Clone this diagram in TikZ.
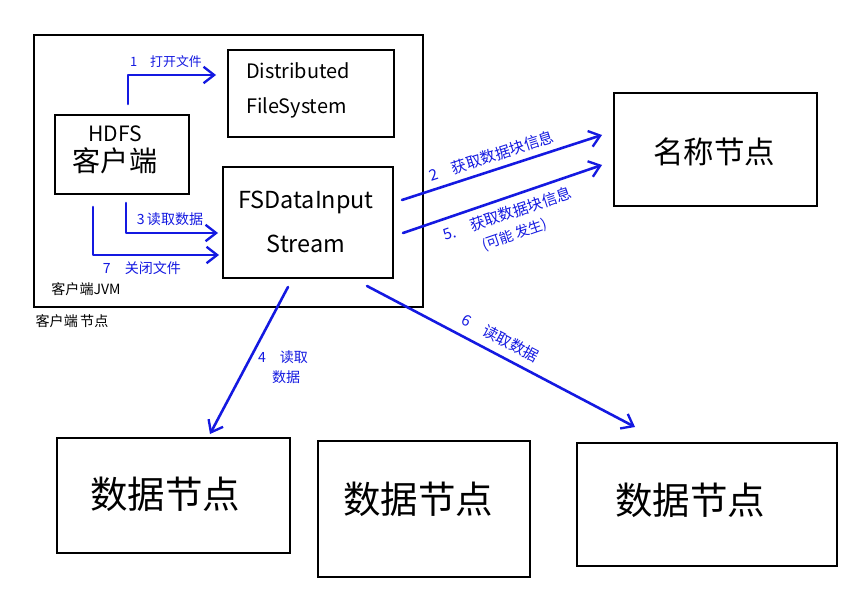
\documentclass[tikz,border=0pt]{standalone}
\usepackage{fontspec}
\setmainfont{Noto Sans CJK SC}
\usetikzlibrary{arrows.meta}
\definecolor{penblue}{RGB}{20,25,225}
\tikzset{
  box/.style={draw=black, line width=2.2pt, rectangle, inner sep=0pt},
  flow/.style={draw=penblue, line width=2.2pt, line cap=round, line join=round,
    -{Straight Barb[length=9pt,width=14pt,line width=2pt]}},
  lbl/.style={text=penblue, font=\fontsize{11}{13}\selectfont, inner sep=1pt},
  bigtxt/.style={font=\fontsize{19}{24}\selectfont},
}
\begin{document}
\begin{tikzpicture}[x=0.03cm,y=-0.03cm]
\useasboundingbox[fill=white] (0,0) rectangle (843,594);
% boxes
\node[box, minimum width=11.67cm, minimum height=8.16cm] (jvm) at (228.5,171) {};
\node[box, minimum width=4.98cm, minimum height=2.61cm] (dfs) at (311,93.5) {};
\node[box, minimum width=4.02cm, minimum height=2.37cm] (client) at (122,154.5) {};
\node[box, minimum width=5.1cm, minimum height=3.33cm] (fsin) at (308,222.5) {};
\node[box, minimum width=6.09cm, minimum height=3.39cm] (nn) at (715.5,149.5) {};
\node[box, minimum width=6.99cm, minimum height=3.45cm] (dn1) at (173.5,495.5) {};
\node[box, minimum width=6.36cm, minimum height=4.08cm] (dn2) at (424,509) {};
\node[box, minimum width=7.8cm, minimum height=3.69cm] (dn3) at (707,504.5) {};
% box texts
\node[bigtxt, align=left, font=\fontsize{17}{30}\selectfont] (dfst) at (298,90) {Distributed\\FileSystem};
\node[align=center] (clientt) at (115,150) {\fontsize{18}{22}\selectfont HDFS\\[4pt]\fontsize{24}{28}\selectfont 客户端};
\node[align=center, font=\fontsize{20}{38}\selectfont] (fsint) at (306,222) {FSDataInput\\Stream};
\node[font=\fontsize{26}{30}\selectfont] (nnt) at (714,152) {名称节点};
\node[font=\fontsize{32}{36}\selectfont] (dn1t) at (165,494) {数据节点};
\node[font=\fontsize{32}{36}\selectfont] (dn2t) at (418,499) {数据节点};
\node[font=\fontsize{32}{36}\selectfont] (dn3t) at (690,500) {数据节点};
% JVM labels
\node[font=\fontsize{12}{14}\selectfont] (jvml) at (86,289) {客户端JVM};
\node[font=\fontsize{12}{14}\selectfont] (nodel) at (72,321) {客户端\,节点};
% connector endpoints
\coordinate (a1s) at (128,104);
\coordinate (a1e) at (216,75);
\coordinate (a3s) at (126,203);
\coordinate (a3e) at (218,233);
\coordinate (a7s) at (93,207);
\coordinate (a7e) at (219,255);
\coordinate (a2s) at (402,200);
\coordinate (a2e) at (602,135);
\coordinate (a5s) at (403,233);
\coordinate (a5e) at (602,165);
\coordinate (a4s) at (288,287);
\coordinate (a4e) at (210,434);
\coordinate (a6s) at (367,286);
\coordinate (a6e) at (635,427);
% connectors
\draw[flow] (a1s) |- (a1e);
\draw[flow] (a3s) |- (a3e);
\draw[flow] (a7s) |- (a7e);
\draw[flow] (a2s) -- node[lbl, sloped, above=4pt, pos=0.47, font=\fontsize{13}{15}\selectfont] (l2) {2\quad 获取数据块信息} (a2e);
\draw[flow] (a5s) -- node[lbl, sloped, below=5pt, pos=0.5, font=\fontsize{13}{15}\selectfont] (l5) {5.\quad 获取数据块信息}
                     node[lbl, sloped, below=24pt, pos=0.5, font=\fontsize{12}{14}\selectfont] (l5b) {(可能\,发生)} (a5e);
\draw[flow] (a4s) -- (a4e);
\draw[flow] (a6s) -- node[lbl, sloped, above=6pt, pos=0.47, font=\fontsize{13}{15}\selectfont] (l6) {6\quad 读取数据} (a6e);
% labels
\node[lbl] (l1) at (166,62) {1\quad 打开文件};
\node[lbl, font=\fontsize{12}{14}\selectfont] (l3) at (170,219) {3\,读取数据};
\node[lbl, font=\fontsize{12}{14}\selectfont] (l7) at (142,268) {7\quad 关闭文件};
\node[lbl, align=center, font=\fontsize{12}{17}\selectfont] (l4) at (283,367) {4\quad 读取\\\ \ 数据};
\end{tikzpicture}
\end{document}
